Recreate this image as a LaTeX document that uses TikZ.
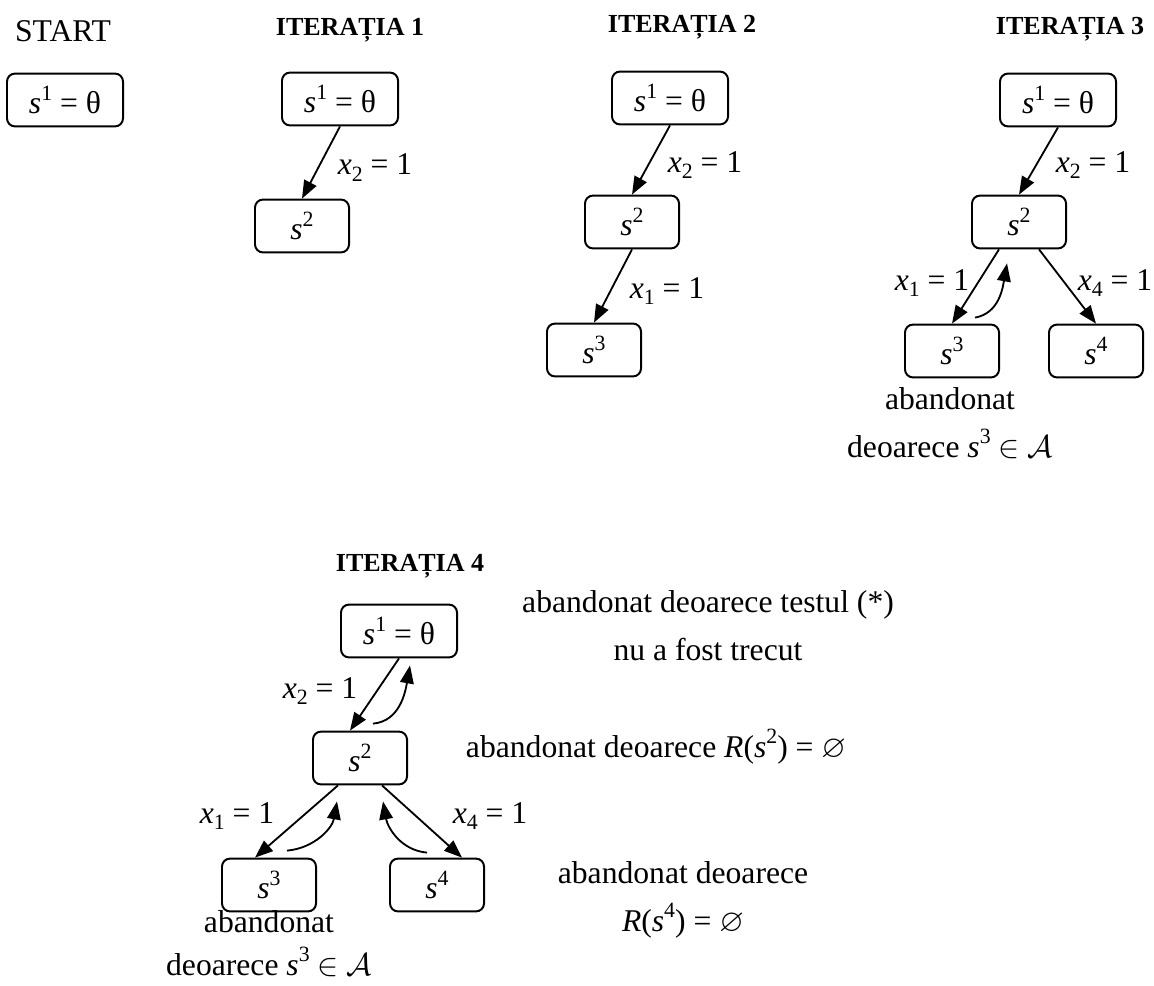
\RequirePackage{fix-cm}
\documentclass[tikz,border=0pt]{standalone}
\usepackage{amssymb}
\usepackage{fontspec}
\setmainfont{Liberation Serif}
\usetikzlibrary{arrows.meta}

\newcommand{\sv}[1]{\textit{s}\raisebox{0.42em}{\fontsize{15.5}{16}\selectfont #1}}
\newcommand{\xv}[1]{\textit{x}\raisebox{-0.22em}{\fontsize{15.5}{16}\selectfont #1} = 1}

\begin{document}
\begin{tikzpicture}[
    x=0.025cm, y=-0.025cm,
    every node/.style={font=\fontsize{22.5}{34}\selectfont},
    state/.style={rectangle, rounded corners=0.2cm, draw, line width=1.4pt, minimum width=2.35cm, minimum height=1.32cm, inner sep=0pt},
    root/.style={state, minimum width=2.9cm},
    title/.style={anchor=base, font=\fontsize{18.5}{22}\selectfont\bfseries},
    lbl/.style={anchor=base},
    note/.style={anchor=base, align=center},
    arrow/.style={-{Triangle[length=0.45cm, width=0.34cm]}, line width=1.3pt}
]
\useasboundingbox (0,0) rectangle (1154,985);

% Start
\node[anchor=base] (start) at (63,42) {START};
\node[root] (a0) at (65,100) {\sv{1} = θ};

% Iteratia 1
\node[title] (t1) at (350,36) {ITERAȚIA 1};
\node[root] (a1) at (340,99) {\sv{1} = θ};
\node[state] (a2) at (302,226) {\sv{2}};
\draw[arrow] (a1.south) -- (a2.north);
\node[lbl] (la2) at (375,175) {\xv{2}};

% Iteratia 2
\node[title] (t2) at (682,33) {ITERAȚIA 2};
\node[root] (b1) at (670,98) {\sv{1} = θ};
\node[state] (b2) at (632,222) {\sv{2}};
\node[state] (b3) at (594,350) {\sv{3}};
\draw[arrow] (b1.south) -- (b2.north);
\draw[arrow] (b2.south) -- (b3.north);
\node[lbl] (lb2) at (705,172) {\xv{2}};
\node[lbl] (lb3) at (667,298) {\xv{1}};

% Iteratia 3
\node[title] (t3) at (1070,35) {ITERAȚIA 3};
\node[root] (c1) at (1058,100) {\sv{1} = θ};
\node[state] (c2) at (1019,222) {\sv{2}};
\node[state] (c3) at (952,351) {\sv{3}};
\node[state] (c4) at (1096,351) {\sv{4}};
\draw[arrow] (c1.south) -- (c2.north);
\draw[arrow] ([xshift=-0.5cm]c2.south) -- (c3.north);
\draw[arrow] ([xshift=0.5cm]c2.south) -- (c4.north);
\draw[arrow] ([xshift=0.575cm, yshift=0.15cm]c3.north) to[out=10, in=-100] ([xshift=-0.3cm, yshift=-0.35cm]c2.south);
\node[lbl] (lc2) at (1093,172) {\xv{2}};
\node[lbl] (lc3) at (932,290) {\xv{1}};
\node[lbl] (lc4) at (1115,290) {\xv{4}};
\node[note] (nc3) at (950,457) {abandonat\\deoarece \sv{3} $\in$ $\mathcal{A}$};

% Iteratia 4
\node[title] (t4) at (410,571) {ITERAȚIA 4};
\node[root] (d1) at (399,631) {\sv{1} = θ};
\node[state] (d2) at (360,758) {\sv{2}};
\node[state] (d3) at (269,885) {\sv{3}};
\node[state] (d4) at (437,885) {\sv{4}};
\draw[arrow] (d1.south) -- ([xshift=-0.25cm]d2.north);
\draw[arrow] ([xshift=-0.55cm]d2.south) -- ([xshift=-0.35cm]d3.north);
\draw[arrow] ([xshift=0.55cm]d2.south) -- ([xshift=0.625cm]d4.north);
% back tracking
\draw[arrow] ([xshift=0.325cm, yshift=0.175cm]d2.north) to[out=5, in=-100] ([xshift=0.275cm, yshift=-0.175cm]d1.south);
\draw[arrow] ([xshift=0.45cm, yshift=0.175cm]d3.north) to[out=5, in=-100] ([xshift=-0.575cm, yshift=-0.4cm]d2.south);
\draw[arrow] ([xshift=-0.25cm, yshift=0.125cm]d4.north) to[out=175, in=-80] ([xshift=0.575cm, yshift=-0.4cm]d2.south);
\node[lbl] (ld2) at (320,698) {\xv{2}};
\node[lbl] (ld3) at (237,823) {\xv{1}};
\node[lbl] (ld4) at (490,823) {\xv{4}};
\node[note, font=\fontsize{22.5}{30}\selectfont] (nd3) at (269,975) {abandonat\\deoarece \sv{3} $\in$ $\mathcal{A}$};
\node[note] (nd1) at (708,660) {abandonat deoarece testul (*)\\nu a fost trecut};
\node[note] (nd2) at (656,757) {abandonat deoarece \textit{R}(\sv{2}) = $\varnothing$};
\node[note] (nd4) at (683,931) {abandonat deoarece\\\textit{R}(\sv{4}) = $\varnothing$};
\end{tikzpicture}
\end{document}
